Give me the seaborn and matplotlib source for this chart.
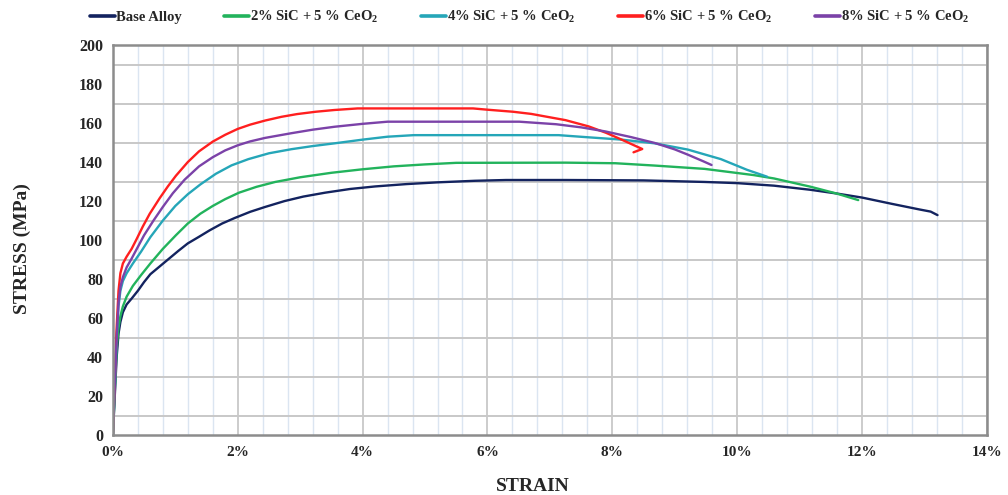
import numpy as np
import pandas as pd
import matplotlib
matplotlib.use('Agg')
import matplotlib.pyplot as plt
import seaborn as sns
from matplotlib.ticker import MultipleLocator, FuncFormatter

# curve data (strain in %, stress in MPa)
alloys = ['Base Alloy', '2% SiC + 5 % CeO$_2$', '4% SiC + 5 % CeO$_2$',
          '6% SiC + 5 % CeO$_2$', '8% SiC + 5 % CeO$_2$']
colors = ['#13235f', '#22b35c', '#25a6b8', '#ff1f1f', '#7b42a8']

base_strain = [0, 0.03, 0.06, 0.09, 0.12, 0.16, 0.22, 0.30, 0.40, 0.50, 0.60, 0.75,
               0.90, 1.05, 1.20, 1.38, 1.55, 1.75, 1.95, 2.20, 2.44, 2.75, 3.05, 3.40,
               3.80, 4.20, 4.70, 5.20, 5.80, 6.30, 7.25, 8.50, 9.48, 10.0, 10.59, 11.17,
               11.59, 12.0, 12.49, 12.92, 13.1, 13.21]
base_stress = [0, 20, 40, 52, 58, 63, 67, 70, 74, 78.5, 82.5, 86.5,
               90.5, 94.5, 98.3, 101.7, 105, 108.5, 111.3, 114.5, 117, 120, 122.3, 124.3,
               126.2, 127.5, 128.7, 129.6, 130.4, 130.8, 130.8, 130.6, 129.8, 129.2, 127.9, 125.8,
               123.9, 121.8, 118.5, 115.7, 114.6, 112.8]

sic2_strain = [0, 0.03, 0.06, 0.09, 0.12, 0.16, 0.22, 0.32, 0.45, 0.60, 0.80, 1.01,
               1.20, 1.40, 1.60, 1.80, 2.02, 2.30, 2.60, 3.00, 3.50, 4.00, 4.50, 5.00,
               5.50, 7.25, 8.05, 8.68, 9.48, 10.27, 10.59, 11.17, 11.59, 11.94]
sic2_stress = [0, 22, 44, 55, 61, 66, 71, 76.5, 82, 88, 95.5, 102.5,
               108.5, 113.5, 117.5, 121, 124.3, 127.3, 129.8, 132.2, 134.5, 136.3, 137.8, 138.8,
               139.6, 139.7, 139.4, 138.2, 136.5, 133.3, 131.6, 127.4, 123.9, 120.5]

sic4_strain = [0, 0.03, 0.06, 0.09, 0.12, 0.16, 0.22, 0.32, 0.45, 0.60, 0.80, 1.00,
               1.20, 1.40, 1.65, 1.90, 2.17, 2.50, 2.86, 3.20, 3.55, 4.00, 4.40, 4.82,
               7.14, 7.57, 8.15, 8.68, 9.21, 9.74, 10.16, 10.48]
sic4_stress = [0, 25, 50, 66, 74, 79, 83, 88, 94, 101.5, 110, 117.5,
               123.5, 128.5, 134, 138.3, 141.5, 144.5, 146.6, 148.2, 149.6, 151.5, 153.0, 153.8,
               153.8, 152.8, 151.5, 149.6, 146.4, 141.5, 136, 132.5]

sic6_strain = [0, 0.03, 0.06, 0.09, 0.12, 0.16, 0.22, 0.30, 0.38, 0.48, 0.59, 0.75,
               0.88, 1.01, 1.20, 1.38, 1.60, 1.80, 2.00, 2.20, 2.44, 2.70, 2.95, 3.25,
               3.55, 3.92, 5.77, 5.98, 6.41, 6.70, 6.94, 7.25, 7.62, 7.90, 8.15, 8.39,
               8.48, 8.34]
sic6_stress = [0, 28, 55, 74, 83, 88, 91.5, 95.5, 100.5, 107, 113.5, 121.5,
               127.5, 133, 140, 145.5, 150.5, 154, 157, 159.2, 161.3, 163.2, 164.6, 165.8,
               166.7, 167.5, 167.5, 166.9, 165.8, 164.7, 163.3, 161.5, 158.3, 155, 151.5, 148,
               146.7, 145.0]

sic8_strain = [0, 0.03, 0.06, 0.09, 0.12, 0.16, 0.22, 0.30, 0.40, 0.50, 0.65, 0.80,
               0.96, 1.15, 1.38, 1.60, 1.80, 2.00, 2.20, 2.44, 2.86, 3.20, 3.55, 4.00,
               4.40, 6.51, 7.10, 7.50, 7.89, 8.30, 8.68, 9.00, 9.21, 9.45, 9.59]
sic8_stress = [0, 26, 50, 68, 76, 81, 86, 90.5, 96.5, 102.5, 110, 117,
               124, 131, 137.8, 142.5, 146, 148.6, 150.6, 152.4, 154.8, 156.6, 158.1, 159.6,
               160.7, 160.7, 159.4, 157.8, 155.7, 152.8, 149.8, 146.5, 143.8, 140.5, 138.5]

x_ticks = [0, 2, 4, 6, 8, 10, 12, 14]
y_ticks = list(range(0, 201, 20))

strains = [base_strain, sic2_strain, sic4_strain, sic6_strain, sic8_strain]
stresses = [base_stress, sic2_stress, sic4_stress, sic6_stress, sic8_stress]
frames = []
for name, s, t in zip(alloys, strains, stresses):
    frames.append(pd.DataFrame({'strain': s, 'stress': t, 'alloy': name}))
df = pd.concat(frames, ignore_index=True)

sns.set_style('white')
plt.rcParams['font.family'] = ['Liberation Serif', 'DejaVu Serif']
plt.rcParams['font.weight'] = 'bold'
plt.rcParams['mathtext.fontset'] = 'custom'
plt.rcParams['mathtext.rm'] = 'Liberation Serif:bold'
plt.rcParams['mathtext.bf'] = 'Liberation Serif:bold'
plt.rcParams['mathtext.default'] = 'bf'

fig = plt.figure(figsize=(10.08, 4.95), dpi=100)
ax = fig.add_axes([0.112, 0.121, 0.867, 0.788])

sns.lineplot(data=df, x='strain', y='stress', hue='alloy', palette=colors,
             sort=False, estimator=None, linewidth=1.7, ax=ax)

ax.set_xlim(0, 14)
ax.set_ylim(0, 200)
ax.set_xticks(x_ticks)
ax.set_yticks(y_ticks)
ax.xaxis.set_major_formatter(FuncFormatter(lambda v, p: f'{v:.0f}%'))
ax.xaxis.set_minor_locator(MultipleLocator(0.4))
ax.set_yticks(np.arange(10, 200, 20), minor=True)

ax.set_axisbelow(True)
ax.xaxis.grid(True, which='minor', color='#dbe5f1', linewidth=1.0)
ax.xaxis.grid(True, which='major', color='#c4c4c4', linewidth=1.2)
ax.yaxis.grid(True, which='minor', color='#c8c8c8', linewidth=1.4)
ax.yaxis.grid(False, which='major')

ax.tick_params(axis='x', which='both', length=0, pad=8, labelsize=11)
ax.tick_params(axis='y', which='major', length=4, color='#8c8c8c', width=1, pad=3, labelsize=11.5)
ax.tick_params(axis='y', which='minor', length=0)
for lab in ax.get_xticklabels() + ax.get_yticklabels():
    lab.set_fontweight('bold')

for sp in ax.spines.values():
    sp.set_visible(True)
    sp.set_color('#8c8c8c')
    sp.set_linewidth(1.8)

ax.set_xlabel('STRAIN', fontsize=14, fontweight='bold', va='center')
ax.set_ylabel('STRESS (MPa)', fontsize=14, fontweight='bold', va='center')
ax.xaxis.set_label_coords(0.48, -0.133)
ax.yaxis.set_label_coords(-0.104, 0.477)

handles, labels = ax.get_legend_handles_labels()
ax.get_legend().remove()
leg = fig.legend(handles, labels, loc='center left', bbox_to_anchor=(0.076, 0.966),
                 ncol=5, frameon=False, handlelength=1.7, handletextpad=0.1,
                 columnspacing=2.9, prop={'family': 'Liberation Serif', 'weight': 'bold', 'size': 10.5})
for h in leg.get_lines():
    h.set_linewidth(2.6)

fig.savefig('out.png', dpi=100)
